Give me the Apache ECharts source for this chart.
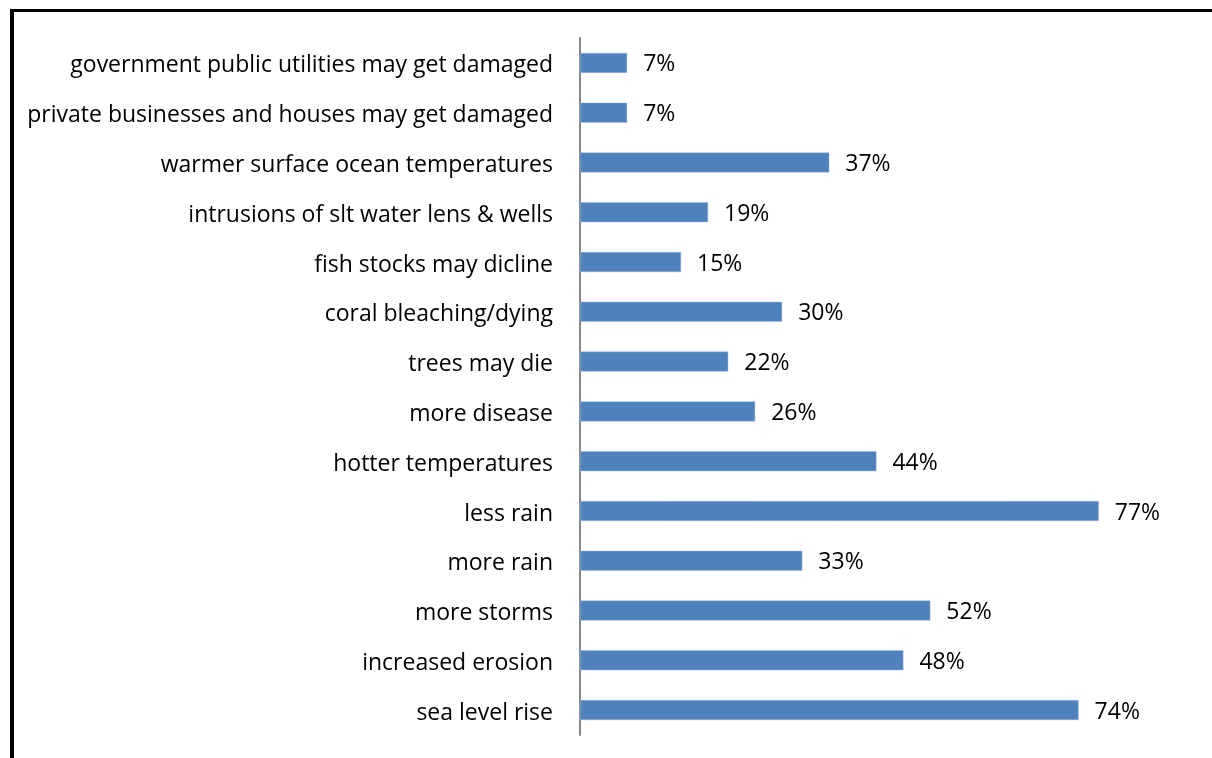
<!DOCTYPE html>
<html><head><meta charset="utf-8">
<script src="https://cdn.jsdelivr.net/npm/echarts@6/dist/echarts.min.js"></script>
<style>html,body{margin:0;padding:0;background:#fff}#c{width:1212px;height:758px}</style>
</head><body><div id="c"></div>
<script>
var categories = ["government public utilities may get damaged","private businesses and houses may get damaged","warmer surface ocean temperatures","intrusions of slt water lens & wells","fish stocks may dicline","coral bleaching/dying","trees may die","more disease","hotter temperatures","less rain","more rain","more storms","increased erosion","sea level rise"];
var values = [0.07,0.07,0.37,0.19,0.15,0.30,0.22,0.26,0.44,0.77,0.33,0.52,0.48,0.74];
var chart = echarts.init(document.getElementById('c'));
var font = '"Open Sans", "Noto Sans", sans-serif';
chart.setOption({
  animation:false,
  grid:{left:580,top:38,height:697,right:93},
  xAxis:{type:'value',min:0,max:0.8,show:false},
  yAxis:{type:'category',data:categories,inverse:true,
    axisLine:{lineStyle:{color:'#888',width:2}},axisTick:{show:false},
    axisLabel:{color:'#000',fontSize:23,fontFamily:font,margin:27,padding:[0,0,0,0],verticalAlign:'middle',lineHeight:23,
      formatter:function(v){return '{a|'+v+'}';},
      rich:{a:{fontSize:23,fontFamily:font,color:'#000',padding:[6,0,0,0]}}}},
  series:[{type:'bar',data:values,barWidth:20,
    itemStyle:{color:'#4F81BD',borderColor:'#9DB8DC',borderWidth:0.5},
    label:{show:true,position:'right',distance:16,offset:[0,2],color:'#000',fontSize:23,fontFamily:font,
      formatter:function(p){return Math.round(p.value*100)+'%';}}}],
  graphic:[
    {type:'rect',shape:{x:10,y:9,width:4,height:760},style:{fill:'#000'}},
    {type:'rect',shape:{x:10,y:9,width:1210,height:3},style:{fill:'#000'}}
  ]
});
</script></body></html>
